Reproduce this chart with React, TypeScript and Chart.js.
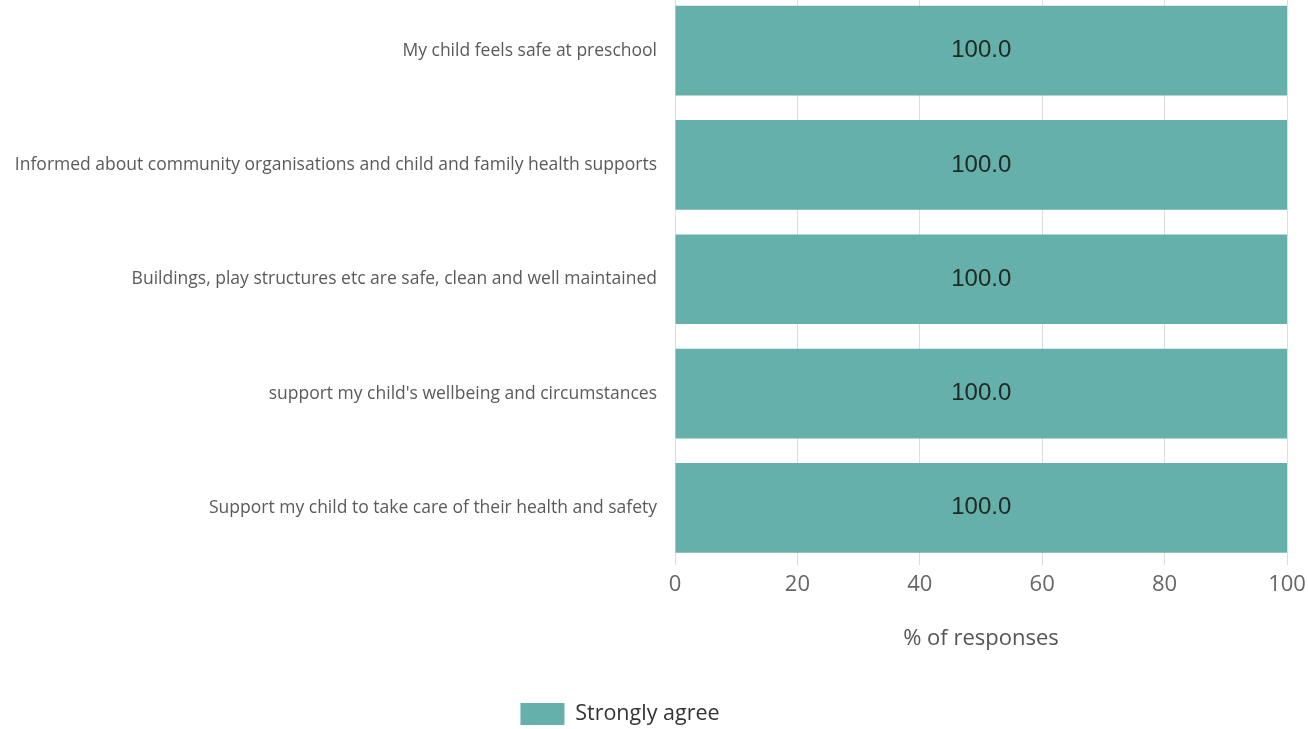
import React, { useEffect, useRef } from "react";
import { Chart, registerables } from "chart.js";

Chart.register(...registerables);

const categories: string[] = [
  "My child feels safe at preschool",
  "Informed about community organisations and child and family health supports",
  "Buildings, play structures etc are safe, clean and well maintained",
  "support my child's wellbeing and circumstances",
  "Support my child to take care of their health and safety",
];
const seriesName = "Strongly agree";
const stronglyAgree: number[] = [100, 100, 100, 100, 100];
const xTicks: number[] = [0, 20, 40, 60, 80, 100];

const FONT = "'Open Sans', 'Noto Sans', sans-serif";
const LABEL_FONT = "'Liberation Sans', Arial, sans-serif";
const BAR_COLOR = "#66b0ab";

const valueLabels = {
  id: "valueLabels",
  afterDatasetsDraw(chart: any) {
    const { ctx } = chart;
    ctx.save();
    ctx.font = `24px ${LABEL_FONT}`;
    ctx.fillStyle = "#1e2a22";
    ctx.textAlign = "center";
    ctx.textBaseline = "middle";
    chart.data.datasets.forEach((ds: any, di: number) => {
      const meta = chart.getDatasetMeta(di);
      meta.data.forEach((bar: any, i: number) => {
        const v = ds.data[i];
        const cx = (bar.x + bar.base) / 2;
        ctx.fillText(Number(v).toFixed(1), cx, bar.y);
      });
    });
    ctx.restore();
  },
};

const legendShift = {
  id: "legendShift",
  beforeDraw(chart: any) {
    const lg = chart.legend;
    if (lg) {
      lg.left = 0;
      lg.right = 1240;
    }
  },
};

export default function App() {
  const ref = useRef<HTMLCanvasElement | null>(null);

  useEffect(() => {
    if (!ref.current) return;
    const chart = new Chart(ref.current, {
      type: "bar",
      data: {
        labels: categories,
        datasets: [
          {
            label: seriesName,
            data: stronglyAgree,
            backgroundColor: BAR_COLOR,
            borderWidth: 0,
            barPercentage: 0.785,
            categoryPercentage: 1,
          },
        ],
      },
      options: {
        indexAxis: "y",
        animation: false,
        responsive: false,
        maintainAspectRatio: false,
        layout: { padding: { top: 13.5, right: 21, left: 0, bottom: 0 } },
        plugins: {
          tooltip: { enabled: false },
          legend: {
            position: "bottom",
            labels: {
              boxWidth: 44,
              boxHeight: 22,
              padding: 10,
              color: "#333333",
              font: { family: FONT, size: 21.5 },
            },
          },
        },
        scales: {
          x: {
            min: 0,
            max: 100,
            afterBuildTicks(scale: any) {
              scale.ticks = xTicks.map((v) => ({ value: v }));
            },
            afterFit(scale: any) {
              scale.paddingLeft = 0;
              scale.paddingRight = 0;
            },
            grid: { color: "#dddddd", drawTicks: false },
            border: { display: false },
            ticks: {
              padding: 7,
              color: "#666666",
              font: { family: FONT, size: 22 },
            },
            title: {
              display: true,
              text: "% of responses",
              color: "#555555",
              font: { family: FONT, size: 22 },
              padding: { top: 20.4, bottom: 40.8 },
            },
          },
          y: {
            grid: { display: false, drawTicks: false },
            border: { display: false },
            afterFit(scale: any) {
              scale.width = 675;
              scale.paddingTop = 0;
              scale.paddingBottom = 0;
            },
            ticks: {
              padding: 18,
              color: "#5a5a5a",
              font: { family: FONT, size: 17.5 },
            },
          },
        },
      },
      plugins: [valueLabels, legendShift],
    });
    return () => chart.destroy();
  }, []);

  return (
    <div
      style={{
        position: "fixed",
        left: 0,
        top: 0,
        width: 1308,
        height: 729,
        overflow: "hidden",
        background: "#ffffff",
      }}
    >
      <div style={{ position: "absolute", left: 0, top: -20, width: 1308, height: 755 }}>
        <canvas ref={ref} width={1308} height={755} style={{ width: 1308, height: 755 }} />
      </div>
    </div>
  );
}
